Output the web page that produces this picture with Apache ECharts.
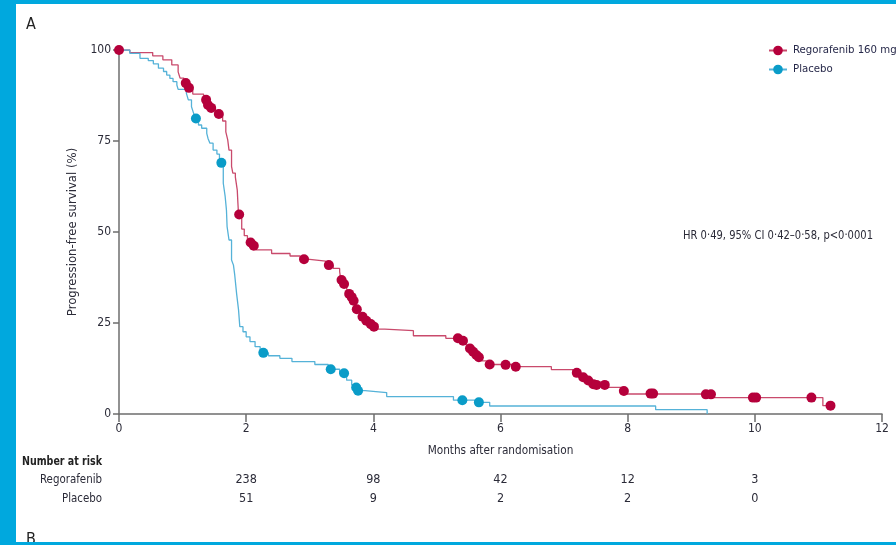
<!DOCTYPE html>
<html><head><meta charset="utf-8">
<script src="https://cdn.jsdelivr.net/npm/echarts@6/dist/echarts.min.js"></script>
<style>html,body{margin:0;padding:0;background:#fff}#c{width:896px;height:545px}</style>
</head><body><div id="c"></div>
<script>
// ---- data (months, % progression-free) ----
const regorafenibSteps = [[0,100],[0.17,99.3],[0.53,98.4],[0.69,97.3],[0.83,95.9],[0.93,94.0],[0.96,92.3],[1.02,90.9],[1.08,89.6],[1.16,87.9],[1.33,86.3],[1.39,84.9],[1.43,83.6],[1.52,82.4],[1.63,80.5],[1.68,77.5],[1.71,75.3],[1.73,72.5],[1.77,68.0],[1.79,66.2],[1.83,65.1],[1.86,61.5],[1.87,58.0],[1.88,54.8],[1.93,50.8],[1.97,49.0],[2.02,47.8],[2.06,47.1],[2.10,46.2],[2.15,45.1],[2.40,44.1],[2.69,43.4],[2.85,42.5],[3.00,42.0],[3.25,40.9],[3.37,40.0],[3.47,39.1],[3.49,36.8],[3.53,35.7],[3.58,34.4],[3.61,33.0],[3.65,32.1],[3.68,31.1],[3.71,29.8],[3.73,28.8],[3.78,27.5],[3.82,26.7],[3.87,25.6],[3.94,24.7],[3.99,24.0],[4.05,23.3],[4.18,22.9],[4.63,21.5],[5.14,20.8],[5.38,20.1],[5.46,18.9],[5.50,18.0],[5.55,17.1],[5.60,16.2],[5.64,15.6],[5.70,14.6],[5.78,13.6],[6.20,13.0],[6.80,12.2],[7.14,11.3],[7.25,10.1],[7.35,9.2],[7.43,8.2],[7.66,7.3],[7.90,6.3],[7.96,5.5],[9.31,4.5],[11.07,2.3],[11.19,2.3]];
const regorafenibCensored = [[0,100],[1.05,90.9],[1.10,89.6],[1.37,86.3],[1.40,84.9],[1.45,84.1],[1.57,82.4],[1.89,54.8],[2.07,47.1],[2.12,46.2],[2.91,42.5],[3.30,40.9],[3.50,36.8],[3.54,35.7],[3.62,33.0],[3.66,32.1],[3.69,31.1],[3.74,28.8],[3.83,26.7],[3.89,25.6],[3.96,24.7],[4.01,24.0],[5.33,20.8],[5.41,20.1],[5.52,18.0],[5.57,17.1],[5.62,16.2],[5.66,15.6],[5.83,13.6],[6.08,13.5],[6.24,13.0],[7.20,11.3],[7.30,10.1],[7.38,9.2],[7.46,8.2],[7.51,8.0],[7.64,8.0],[7.94,6.3],[8.36,5.6],[8.40,5.6],[9.23,5.4],[9.31,5.4],[9.97,4.5],[10.02,4.5],[10.89,4.5],[11.19,2.3]];
const placeboSteps = [[0,100],[0.17,99.1],[0.33,97.7],[0.46,97.1],[0.54,96.2],[0.62,95.0],[0.70,94.1],[0.75,93.1],[0.80,92.2],[0.85,91.3],[0.91,90.4],[0.93,89.2],[1.06,88.1],[1.09,86.3],[1.14,84.4],[1.17,82.8],[1.20,81.2],[1.25,79.4],[1.30,78.5],[1.38,77.1],[1.40,75.7],[1.43,74.4],[1.48,72.5],[1.54,71.4],[1.58,69.0],[1.64,63.4],[1.67,59.7],[1.69,56.0],[1.70,51.5],[1.73,47.8],[1.77,42.3],[1.80,40.9],[1.82,38.2],[1.85,33.0],[1.88,28.6],[1.90,24.0],[1.95,22.6],[2.00,21.2],[2.06,19.9],[2.14,18.5],[2.22,16.8],[2.35,16.0],[2.53,15.3],[2.72,14.4],[3.08,13.6],[3.29,12.3],[3.47,11.2],[3.58,9.3],[3.66,8.0],[3.70,7.3],[3.75,6.4],[3.87,5.9],[4.21,4.8],[5.26,3.8],[5.60,3.2],[5.83,2.2],[8.44,1.2],[9.25,0]];
const placeboCensored = [[1.21,81.2],[1.61,69.0],[2.27,16.8],[3.33,12.3],[3.54,11.2],[3.73,7.3],[3.76,6.4],[5.40,3.8],[5.66,3.2]];
const seriesNames = ['Regorafenib 160 mg','Placebo'];
const xTickValues = [0,2,4,6,8,10,12];
const yTickValues = [0,25,50,75,100];
const riskTimes = [2,4,6,8,10];
const riskRegorafenib = [238,98,42,12,3];
const riskPlacebo = [51,9,2,2,0];
const riskRowLabels = ['Regorafenib','Placebo'];
const hrText = 'HR 0·49, 95% CI 0·42–0·58, p<0·0001';

// ---- style ----
const FONT = "'DejaVu Sans Condensed','DejaVu Sans',sans-serif";
const TXT = '#2b2b38';
const AX = '#6e6e6e';
const RED = '#b5003b', RED_LINE = '#c94a6c';
const BLUE = '#0a9cc8', BLUE_LINE = '#55b2d8';
const FRAME = '#00a8de';

const mctx = document.createElement('canvas').getContext('2d');
function fitScale(text, font, targetWidth) {
  mctx.font = font;
  return targetWidth / mctx.measureText(text).width;
}

const chart = echarts.init(document.getElementById('c'), null, {renderer:'canvas'});
const option = {
  animation: false,
  backgroundColor: '#fff',
  textStyle: {fontFamily: FONT},
  grid: {left: 119, right: 14, top: 50, bottom: 131, containLabel: false},
  legend: {
    orient: 'vertical', left: 763, top: 40, itemWidth: 18, itemHeight: 12, itemGap: 8,
    data: seriesNames, selectedMode: false,
    textStyle: {fontFamily: FONT, fontSize: 11.3, color: '#27294a', padding: [0,0,0,1]}
  },
  xAxis: {
    type: 'value', min: xTickValues[0], max: xTickValues[xTickValues.length-1], interval: 2,
    axisLine: {show: true, onZero: false, lineStyle: {color: AX, width: 1.5}},
    axisTick: {show: true, length: 8, lineStyle: {color: AX, width: 1.5}},
    axisLabel: {margin: 9, fontSize: 12, color: TXT, fontFamily: FONT},
    splitLine: {show: false},
    name: 'Months after randomisation', nameLocation: 'middle', nameGap: 31,
    nameTextStyle: {fontSize: 11.7, color: TXT, fontFamily: FONT}
  },
  yAxis: {
    type: 'value', min: yTickValues[0], max: yTickValues[yTickValues.length-1], interval: 25,
    axisLine: {show: true, lineStyle: {color: AX, width: 1.5}},
    axisTick: {show: true, length: 6, lineStyle: {color: AX, width: 1.5}},
    axisLabel: {margin: 8, fontSize: 12, color: TXT, fontFamily: FONT},
    splitLine: {show: false},
    name: 'Progression-free survival (%)', nameLocation: 'middle', nameGap: 30, nameRotate: 90,
    nameTextStyle: {fontSize: 13, color: TXT, fontFamily: FONT}
  },
  series: [
    {name: seriesNames[0], type: 'line', step: 'end', data: regorafenibSteps, symbol: 'circle', showSymbol: false, symbolSize: 10,
     itemStyle: {color: RED}, lineStyle: {color: RED_LINE, width: 1.3}, z: 2},
    {name: seriesNames[1], type: 'line', step: 'end', data: placeboSteps, symbol: 'circle', showSymbol: false, symbolSize: 10,
     itemStyle: {color: BLUE}, lineStyle: {color: BLUE_LINE, width: 1.3}, z: 2},
    {name: seriesNames[0], type: 'scatter', data: regorafenibCensored, symbolSize: 10, itemStyle: {color: RED, opacity: 1}, z: 4},
    {name: seriesNames[1], type: 'scatter', data: placeboCensored, symbolSize: 10, itemStyle: {color: BLUE, opacity: 1}, z: 3}
  ]
};
chart.setOption(option);

// annotations + risk table positioned through the axis scale
const g = [];
function txt(text, x, y, size, align, targetWidth, weight, fill) {
  const font = (weight ? weight + ' ' : '') + size + 'px ' + FONT;
  const s = targetWidth ? fitScale(text, font, targetWidth) : 1;
  g.push({type:'text', x: x, y: y, scaleX: s,
    style:{text: text, font: font, fill: fill || TXT, textAlign: align, textVerticalAlign: 'middle'}});
}
txt('A', 26, 24.5, 16, 'left', 0, '', '#222');
txt('B', 26, 540, 16, 'left', 0, '', '#222');
txt(hrText, 683, 235.5, 12.5, 'left', 190);
txt('Number at risk', 22, 462, 12.5, 'left', 80, 'bold', '#222');
const rowY = [480, 499];
const rows = [riskRegorafenib, riskPlacebo];
const rowW = [62, 40];
riskRowLabels.forEach((lab, i) => {
  txt(lab, 102, rowY[i], 12.5, 'right', rowW[i]);
  riskTimes.forEach((t, j) => {
    const px = chart.convertToPixel({xAxisIndex: 0}, t);
    txt(String(rows[i][j]), px, rowY[i], 12.5, 'center', 0);
  });
});
// frame
g.push({type:'rect', shape:{x:0,y:0,width:16,height:545}, style:{fill:FRAME}, z:100});
g.push({type:'rect', shape:{x:0,y:0,width:896,height:4}, style:{fill:FRAME}, z:100});
g.push({type:'rect', shape:{x:0,y:542,width:896,height:3}, style:{fill:FRAME}, z:100});
chart.setOption({graphic: g});
</script>
</body></html>
